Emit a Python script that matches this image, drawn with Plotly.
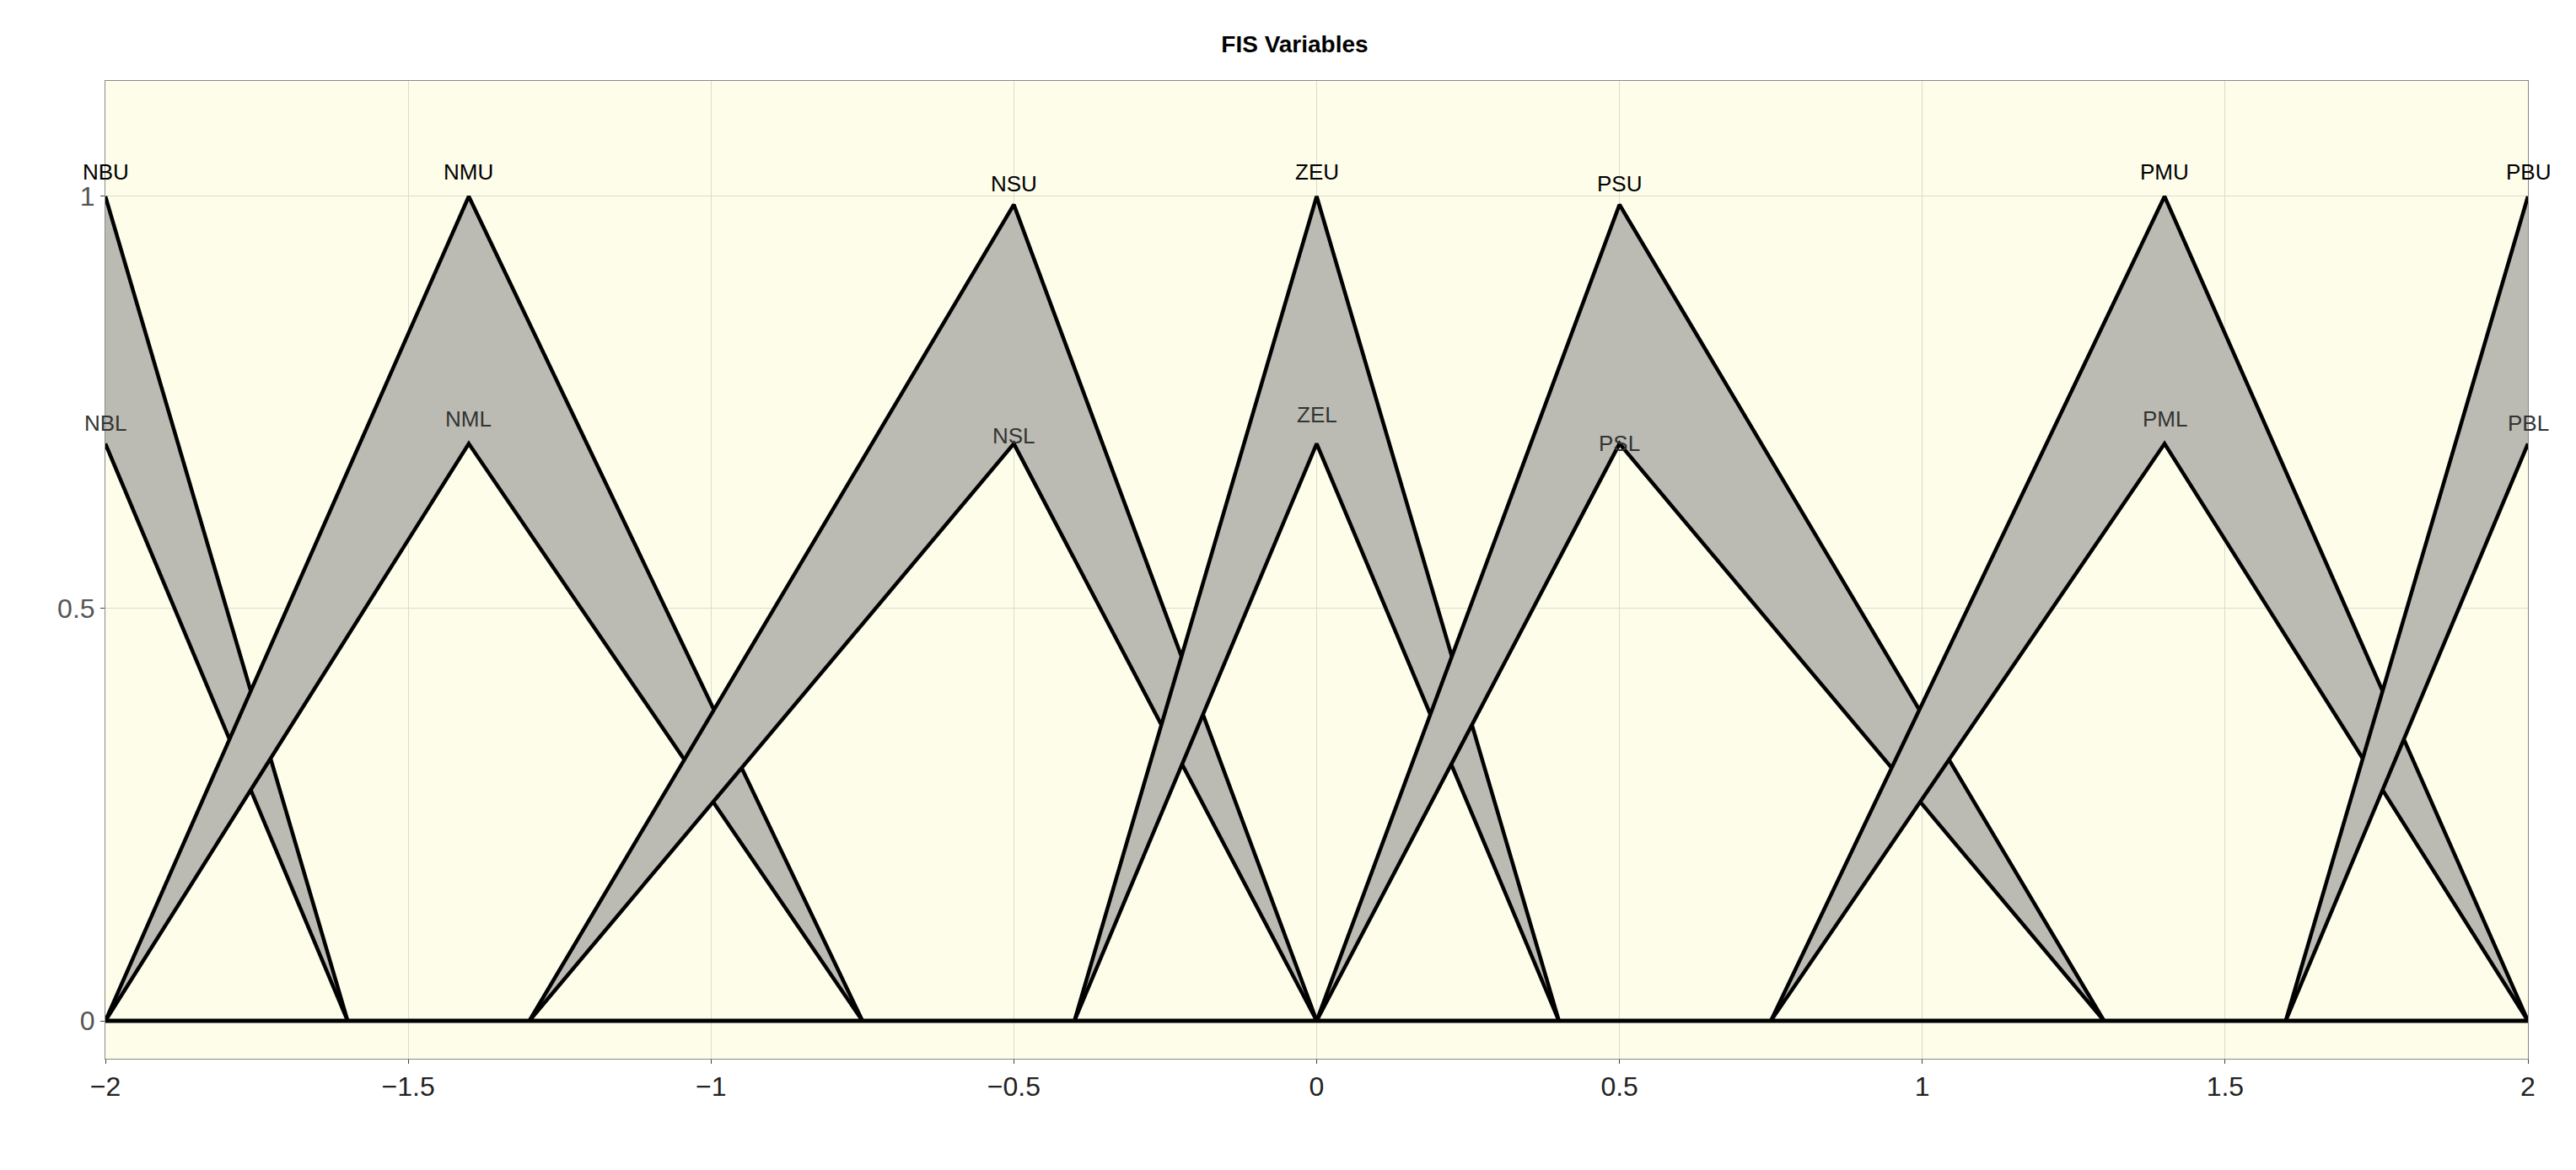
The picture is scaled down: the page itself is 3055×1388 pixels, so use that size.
import plotly.graph_objects as go

names = ["NB", "NM", "NS", "ZE", "PS", "PM", "PB"]
left_feet = [-2, -2, -1.3, -0.4, 0, 0.75, 1.6]
peaks = [-2, -1.4, -0.5, 0, 0.5, 1.4, 2]
right_feet = [-1.6, -0.75, 0, 0.4, 1.3, 2, 2]
upper_h = [1, 1, 0.99, 1, 0.99, 1, 1]
lower_h = [0.7, 0.7, 0.7, 0.7, 0.7, 0.7, 0.7]
upper_label_y = [1.03, 1.03, 1.015, 1.03, 1.015, 1.03, 1.03]
lower_label_y = [0.725, 0.73, 0.71, 0.735, 0.70, 0.73, 0.725]

fig = go.Figure()
for n, a, b, c, hu, hl in zip(names, left_feet, peaks, right_feet, upper_h, lower_h):
    up = [(a, 0)] if a < b else []
    up += [(b, hu)]
    up += [(c, 0)] if c > b else []
    lo = [(a, 0)] if a < b else []
    lo += [(b, hl)]
    lo += [(c, 0)] if c > b else []
    poly = up + lo[::-1]
    fig.add_trace(go.Scatter(x=[p[0] for p in poly], y=[p[1] for p in poly], fill="toself",
                             fillcolor="#bbbbb3", line=dict(width=0), mode="lines",
                             showlegend=False, hoverinfo="skip"))
    for pts in (up, lo):
        fig.add_trace(go.Scatter(x=[p[0] for p in pts], y=[p[1] for p in pts], mode="lines",
                                 line=dict(color="black", width=4.5), showlegend=False))

fig.add_trace(go.Scatter(x=[-2, 2], y=[0, 0], mode="lines", line=dict(color="black", width=5),
                         showlegend=False))

for n, b, yu, yl in zip(names, peaks, upper_label_y, lower_label_y):
    fig.add_annotation(x=b, y=yu, text=n + "U", showarrow=False, yanchor="middle",
                       font=dict(size=26, color="black"))
    fig.add_annotation(x=b, y=yl, text=n + "L", showarrow=False, yanchor="middle",
                       font=dict(size=26, color="#333"))

fig.update_layout(
    width=3055, height=1388,
    margin=dict(l=117, r=65, t=88, b=140),
    paper_bgcolor="white", plot_bgcolor="#fdfdea",
    font=dict(family="Liberation Sans, Arial", size=24, color="black"),
    title=dict(text="<b>FIS Variables</b>", x=0.5, xanchor="center", y=0.975,
               font=dict(size=28, color="black")),
)
fig.update_xaxes(range=[-2, 2], tickvals=[-2, -1.5, -1, -0.5, 0, 0.5, 1, 1.5, 2],
                 ticktext=["−2", "−1.5", "−1", "−0.5", "0", "0.5", "1", "1.5", "2"],
                 showgrid=True, gridcolor="#dcdcd0", zeroline=False, showline=True,
                 linecolor="#888", mirror=True, tickfont=dict(size=32, color="#222"), ticks="outside")
fig.update_yaxes(range=[-0.046, 1.14], tickvals=[0, 0.5, 1], ticktext=["0", "0.5", "1"],
                 showgrid=True, gridcolor="#dcdcd0", zeroline=False, showline=True,
                 linecolor="#888", mirror=True, tickfont=dict(size=32, color="#555"), ticks="outside")
fig.write_html("out.html")
